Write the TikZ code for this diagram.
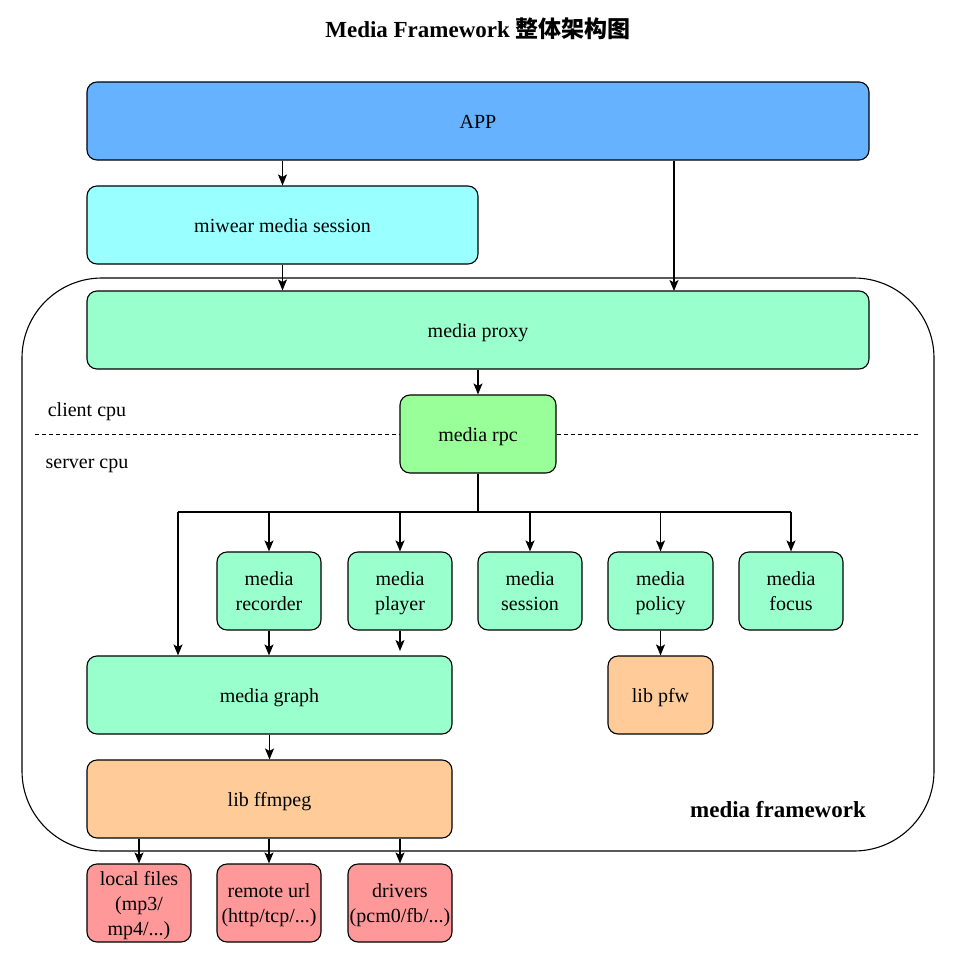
\documentclass[tikz,border=0pt]{standalone}
\usepackage{fontspec}
\setmainfont{Liberation Serif}
\newfontfamily\cjk{Noto Sans CJK SC}
\usetikzlibrary{arrows.meta}
\definecolor{appblue}{HTML}{66B2FF}
\definecolor{cyanbox}{HTML}{99FFFF}
\definecolor{mintbox}{HTML}{99FFCC}
\definecolor{greenbox}{HTML}{99FF99}
\definecolor{orangebox}{HTML}{FFCC99}
\definecolor{redbox}{HTML}{FF9999}
\newcommand\lnstrut{\rule[-5.5pt]{0pt}{25pt}}
\begin{document}
\begin{tikzpicture}[x=1pt,y=-1pt,
  box/.style={draw=black, line width=1.1pt, rounded corners=10pt, align=center,
    inner sep=0pt, minimum height=78pt, font=\fontsize{20}{25}\selectfont},
  arr/.style={line width=1.2pt, -{Stealth[length=11pt,width=9pt,inset=2.5pt]}},
  ln/.style={line width=1.2pt},
  lbl/.style={font=\fontsize{20}{25}\selectfont, inner sep=0pt}]
\useasboundingbox (0,0) rectangle (980,961);
% title
\node[inner sep=0pt, font=\fontsize{23}{28}\selectfont\bfseries] (title) at (478,29) {Media Framework {\cjk\bfseries 整体架构图}};
% container
\draw[line width=1.1pt, rounded corners=80pt] (22,278) rectangle (934,851);
% boxes
\node[box, fill=appblue, minimum width=782pt] (app) at (478,121) {\lnstrut APP};
\node[box, fill=cyanbox, minimum width=391pt] (miwear) at (282.5,225) {\lnstrut miwear media session};
\node[box, fill=mintbox, minimum width=782pt] (proxy) at (478,330) {\lnstrut media proxy};
\node[box, fill=greenbox, minimum width=156pt] (rpc) at (478,434) {\lnstrut media rpc};
\node[box, fill=mintbox, minimum width=104pt] (recorder) at (269,591) {\lnstrut media\\\lnstrut recorder};
\node[box, fill=mintbox, minimum width=104pt] (player) at (400,591) {\lnstrut media\\\lnstrut player};
\node[box, fill=mintbox, minimum width=104pt] (session) at (530,591) {\lnstrut media\\\lnstrut session};
\node[box, fill=mintbox, minimum width=105pt] (policy) at (660.5,591) {\lnstrut media\\\lnstrut policy};
\node[box, fill=mintbox, minimum width=104pt] (focus) at (791,591) {\lnstrut media\\\lnstrut focus};
\node[box, fill=mintbox, minimum width=365pt] (graph) at (269.5,695) {\lnstrut media graph};
\node[box, fill=orangebox, minimum width=105pt] (pfw) at (660.5,695) {\lnstrut lib pfw};
\node[box, fill=orangebox, minimum width=365pt] (ffmpeg) at (269.5,799) {\lnstrut lib ffmpeg};
\node[box, fill=redbox, minimum width=104pt] (local) at (139,903) {\lnstrut local files\\\lnstrut (mp3/\\\lnstrut mp4/...)};
\node[box, fill=redbox, minimum width=104pt] (remote) at (269,903) {\lnstrut remote url\\\lnstrut (http/tcp/...)};
\node[box, fill=redbox, minimum width=104pt] (drivers) at (400,903) {\lnstrut drivers\\\lnstrut (pcm0/fb/...)};
% labels
\node[lbl] (client) at (87,409) {\lnstrut client cpu};
\node[lbl] (server) at (87,461) {\lnstrut server cpu};
\node[lbl, font=\fontsize{23}{28}\selectfont\bfseries] (mf) at (778,812) {\strut media framework};
% dashed separator
\coordinate (dl) at (35,434);
\coordinate (dr) at (920,434);
\draw[line width=0.9pt, dash pattern=on 4pt off 3pt] (dl) -- (rpc.west);
\draw[line width=0.9pt, dash pattern=on 4pt off 3pt] (rpc.east) -- (dr);
% connectors
\coordinate (pa) at (674,291);
\draw[arr] (app.south -| miwear.north) -- (miwear.north);
\draw[arr] (app.south -| pa) -- (pa);
\draw[arr] (miwear.south) -- (miwear.south |- proxy.north);
\draw[arr] (proxy.south -| rpc.north) -- (rpc.north);
\coordinate (busL) at (178,512);
\coordinate (busR) at (791,512);
\draw[ln, line width=2pt] (rpc.south) -- (rpc.south |- busL);
\draw[ln] (busL) -- (busR);
\draw[arr] (busL) -- (busL |- graph.north);
\draw[arr] (recorder.north |- busL) -- (recorder.north);
\draw[arr] (player.north |- busL) -- (player.north);
\draw[arr] (session.north |- busL) -- (session.north);
\draw[arr] (policy.north |- busL) -- (policy.north);
\draw[arr] (busR) -- (focus.north);
\draw[arr] (recorder.south) -- (recorder.south |- graph.north);
\coordinate (pg) at (400,651);
\draw[arr] (player.south) -- (pg);
\draw[arr] (policy.south) -- (pfw.north);
\draw[arr] (graph.south) -- (graph.south |- ffmpeg.north);
\draw[arr] (ffmpeg.south -| local.north) -- (local.north);
\draw[arr] (ffmpeg.south -| remote.north) -- (remote.north);
\draw[arr] (ffmpeg.south -| drivers.north) -- (drivers.north);
\end{tikzpicture}
\end{document}
